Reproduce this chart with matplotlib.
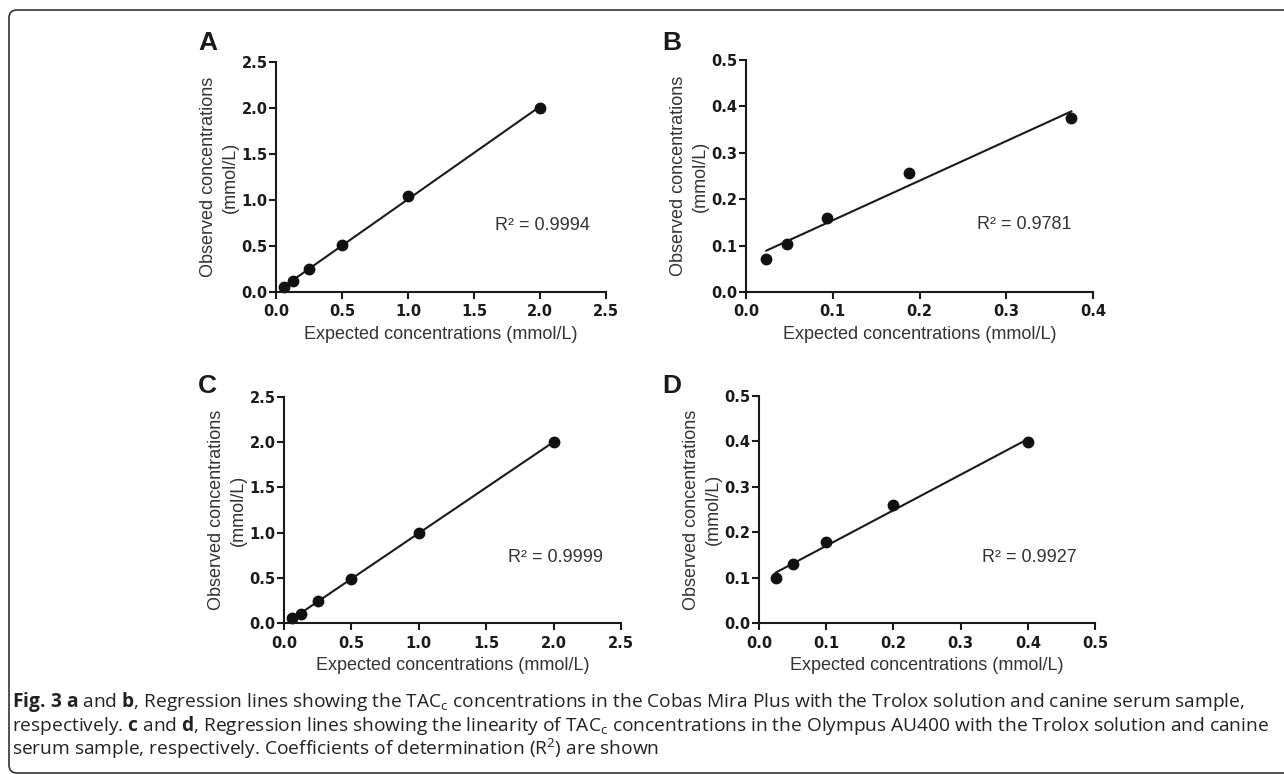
import numpy as np
import matplotlib
matplotlib.use('Agg')
import matplotlib.pyplot as plt
from matplotlib.patches import FancyBboxPatch
from matplotlib.transforms import IdentityTransform
from matplotlib.ticker import FormatStrFormatter

# data
a_x = [0.0625, 0.125, 0.25, 0.5, 1.0, 2.0]
a_y = [0.05, 0.12, 0.25, 0.51, 1.04, 2.0]
b_x = [0.0234, 0.0469, 0.0938, 0.1875, 0.375]
b_y = [0.072, 0.103, 0.160, 0.256, 0.375]
c_x = [0.0625, 0.125, 0.25, 0.5, 1.0, 2.0]
c_y = [0.05, 0.10, 0.24, 0.49, 1.0, 2.0]
d_x = [0.025, 0.05, 0.1, 0.2, 0.4]
d_y = [0.099, 0.130, 0.178, 0.260, 0.398]

r2_labels = ["R² = 0.9994", "R² = 0.9781", "R² = 0.9999", "R² = 0.9927"]
panel_letters = ["A", "B", "C", "D"]
x_max = [2.5, 0.4, 2.5, 0.5]
y_max = [2.5, 0.5, 2.5, 0.5]
x_step = [0.5, 0.1, 0.5, 0.1]
y_step = [0.5, 0.1, 0.5, 0.1]

W, H = 1284, 774
fig = plt.figure(figsize=(W / 100, H / 100), dpi=100)
plt.rcParams['font.family'] = ['Liberation Sans', 'DejaVu Sans']

# axes boxes in pixels: left, top, right, bottom
boxes = [(276, 62, 606, 292), (746, 60, 1093, 292),
         (284, 397, 621, 623), (759, 396, 1095, 623)]
series = [(a_x, a_y), (b_x, b_y), (c_x, c_y), (d_x, d_y)]

for i, (l, t, r, b) in enumerate(boxes):
    ax = fig.add_axes([l / W, 1 - b / H, (r - l) / W, (b - t) / H])
    xs, ys = series[i]
    slope, icpt = np.polyfit(xs, ys, 1)
    xl = np.array([min(xs), max(xs)])
    ax.plot(xl, slope * xl + icpt, color='#1a1a1a', lw=1.5, clip_on=False)
    ax.plot(xs, ys, 'o', color='#111111', ms=7.5, clip_on=False)

    ax.set_xlim(0, x_max[i])
    ax.set_ylim(0, y_max[i])
    ax.set_xticks(np.arange(0, x_max[i] + 1e-9, x_step[i]))
    ax.set_yticks(np.arange(0, y_max[i] + 1e-9, y_step[i]))
    ax.xaxis.set_major_formatter(FormatStrFormatter('%.1f'))
    ax.yaxis.set_major_formatter(FormatStrFormatter('%.1f'))
    for s in ['top', 'right']:
        ax.spines[s].set_visible(False)
    for s in ['left', 'bottom']:
        ax.spines[s].set_linewidth(1.5)
        ax.spines[s].set_color('#1a1a1a')
    ax.tick_params(width=1.5, length=5, color='#1a1a1a', labelsize=10.5)
    ax.tick_params(axis='y', pad=1)
    ax.tick_params(axis='x', pad=4)
    for lab in ax.get_xticklabels() + ax.get_yticklabels():
        lab.set_fontweight('bold')
        lab.set_family('DejaVu Sans')
        lab.set_color('#1a1a1a')

    ax.set_xlabel("Expected concentrations (mmol/L)", fontsize=13,
                  color='#333333', labelpad=5)
    ax.set_ylabel("Observed concentrations\n(mmol/L)", fontsize=13,
                  color='#333333', labelpad=2, linespacing=1.4)
    ax.text(0.665, 0.29, r2_labels[i], transform=ax.transAxes, fontsize=13,
            color='#333333', va='center', ha='left')
    fig.text((198 if i % 2 == 0 else 662) / W, 1 - (50 if i < 2 else 393) / H,
             panel_letters[i], fontsize=19, fontweight='bold', va='baseline',
             ha='left', color='#1a1a1a')

# rounded frame around the figure
frame = FancyBboxPatch((9, 1), 1300, 763, boxstyle='round,pad=0,rounding_size=8',
                       transform=IdentityTransform(), fill=False,
                       ec='#333333', lw=1.2)
fig.patches.append(frame)

# caption
plt.rcParams['mathtext.fontset'] = 'custom'
plt.rcParams['mathtext.rm'] = 'Open Sans'
plt.rcParams['mathtext.bf'] = 'Open Sans:bold'
cap = [
    r"$\mathbf{Fig.\!}$ $\mathbf{3}$ $\mathbf{a}$ and $\mathbf{b}$, Regression lines showing the TAC$_\mathrm{c}$ concentrations in the Cobas Mira Plus with the Trolox solution and canine serum sample,",
    r"respectively. $\mathbf{c}$ and $\mathbf{d}$, Regression lines showing the linearity of TAC$_\mathrm{c}$ concentrations in the Olympus AU400 with the Trolox solution and canine",
    r"serum sample, respectively. Coefficients of determination (R$^\mathrm{2}$) are shown",
]
cap_texts = []
for k, line in enumerate(cap):
    cap_texts.append(fig.text(12 / W, 1 - (707 + 24 * k) / H, line, fontsize=13,
                              family='Open Sans', color='#222222', va='baseline'))

# fit the widest caption line to the reference width
fig.canvas.draw()
w_max = max(t.get_window_extent().width for t in cap_texts)
scale = 1252 / w_max
for t in cap_texts:
    t.set_fontsize(13 * scale)

fig.savefig('out.png', dpi=100)
